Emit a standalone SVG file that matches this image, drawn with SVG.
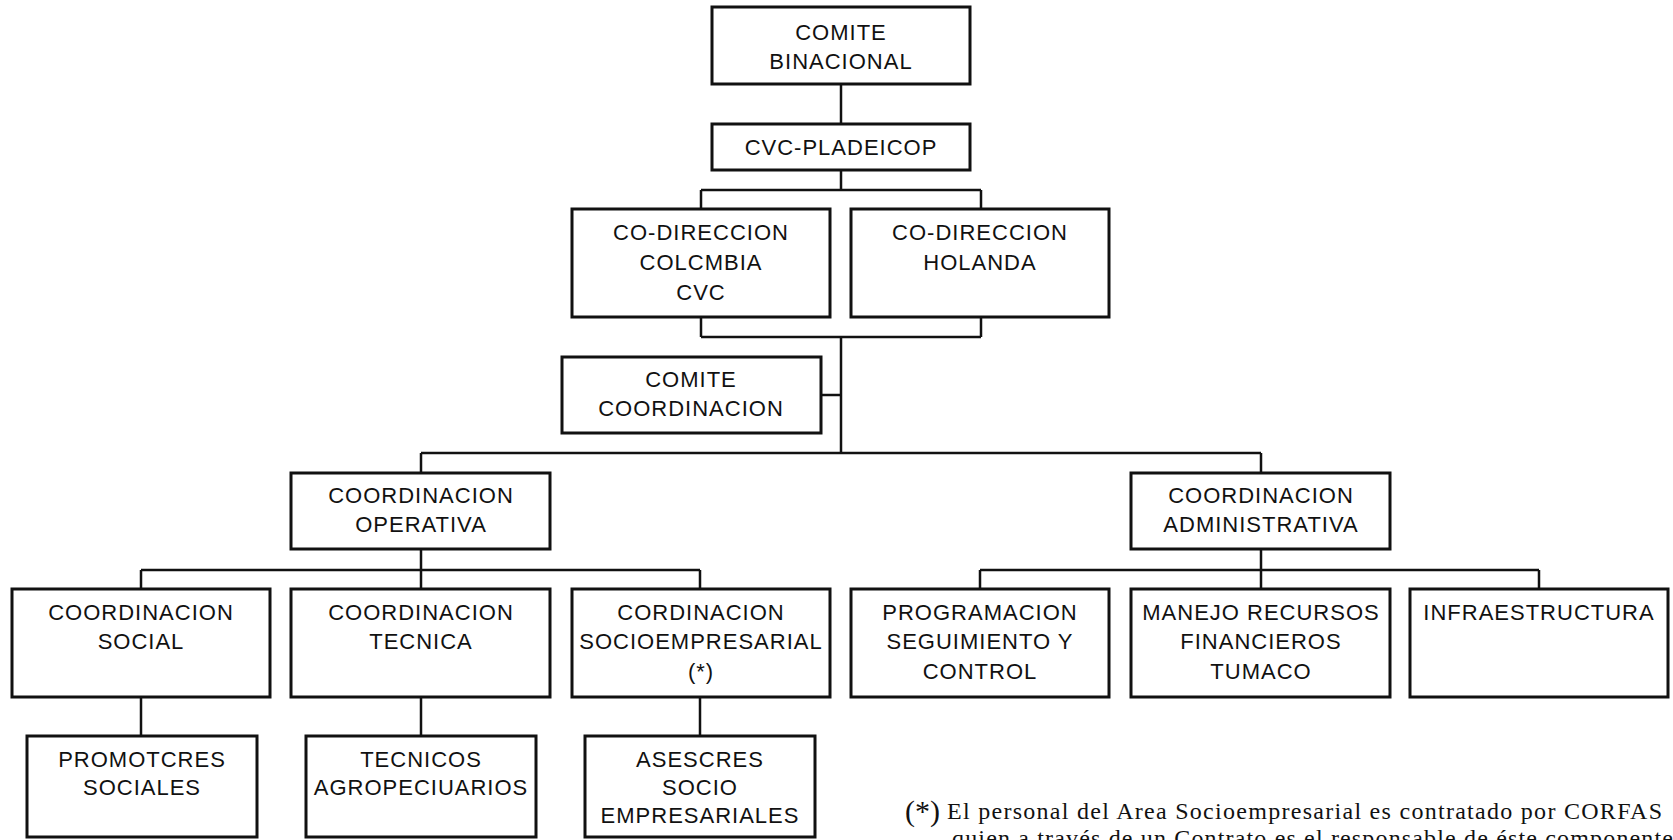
<svg xmlns="http://www.w3.org/2000/svg" width="1673" height="840" viewBox="0 0 1673 840">
<style>
.box{fill:#fff;stroke:#111;stroke-width:3}
.lbl{font-family:"Liberation Sans",Arial,sans-serif;font-size:22px;letter-spacing:1px;fill:#111;text-anchor:middle}
.conn{fill:none;stroke:#111;stroke-width:2.5}
.note{font-family:"Liberation Serif","Times New Roman",serif;font-size:24px;fill:#111}
</style>
<rect width="1673" height="840" fill="#fff"/>
<g id="connectors" class="conn">
<path d="M841 84V124"/>
<path d="M841 170V190M701 190H981M701 190V209M981 190V209"/>
<path d="M701 317V337M981 317V337M701 337H981M841 337V453"/>
<path d="M821 395H841"/>
<path d="M421 453H1261M421 453V473M1261 453V473"/>
<path d="M421 549V570M141 570H700M141 570V589M421 570V589M700 570V589"/>
<path d="M1261 549V570M980 570H1539M980 570V589M1261 570V589M1539 570V589"/>
<path d="M141 697V736M421 697V736M700 697V736"/>
</g>
<g id="comite-binacional"><rect class="box" x="712" y="7" width="258" height="77"/><text class="lbl" x="841" y="40">COMITE</text><text class="lbl" x="841" y="69">BINACIONAL</text></g>
<g id="cvc-pladeicop"><rect class="box" x="712" y="124" width="258" height="46"/><text class="lbl" x="841" y="155">CVC-PLADEICOP</text></g>
<g id="co-direccion-colombia"><rect class="box" x="572" y="209" width="258" height="108"/><text class="lbl" x="701" y="240">CO-DIRECCION</text><text class="lbl" x="701" y="270">COLCMBIA</text><text class="lbl" x="701" y="300">CVC</text></g>
<g id="co-direccion-holanda"><rect class="box" x="851" y="209" width="258" height="108"/><text class="lbl" x="980" y="240">CO-DIRECCION</text><text class="lbl" x="980" y="270">HOLANDA</text></g>
<g id="comite-coordinacion"><rect class="box" x="562" y="357" width="259" height="76"/><text class="lbl" x="691" y="387">COMITE</text><text class="lbl" x="691" y="416">COORDINACION</text></g>
<g id="coordinacion-operativa"><rect class="box" x="291" y="473" width="259" height="76"/><text class="lbl" x="421" y="503">COORDINACION</text><text class="lbl" x="421" y="532">OPERATIVA</text></g>
<g id="coordinacion-administrativa"><rect class="box" x="1131" y="473" width="259" height="76"/><text class="lbl" x="1261" y="503">COORDINACION</text><text class="lbl" x="1261" y="532">ADMINISTRATIVA</text></g>
<g id="coordinacion-social"><rect class="box" x="12" y="589" width="258" height="108"/><text class="lbl" x="141" y="620">COORDINACION</text><text class="lbl" x="141" y="649">SOCIAL</text></g>
<g id="coordinacion-tecnica"><rect class="box" x="291" y="589" width="259" height="108"/><text class="lbl" x="421" y="620">COORDINACION</text><text class="lbl" x="421" y="649">TECNICA</text></g>
<g id="cordinacion-socioempresarial"><rect class="box" x="572" y="589" width="258" height="108"/><text class="lbl" x="701" y="620">CORDINACION</text><text class="lbl" x="701" y="649">SOCIOEMPRESARIAL</text><text class="lbl" x="701" y="679">(*)</text></g>
<g id="programacion"><rect class="box" x="851" y="589" width="258" height="108"/><text class="lbl" x="980" y="620">PROGRAMACION</text><text class="lbl" x="980" y="649">SEGUIMIENTO Y</text><text class="lbl" x="980" y="679">CONTROL</text></g>
<g id="manejo-recursos"><rect class="box" x="1131" y="589" width="259" height="108"/><text class="lbl" x="1261" y="620">MANEJO RECURSOS</text><text class="lbl" x="1261" y="649">FINANCIEROS</text><text class="lbl" x="1261" y="679">TUMACO</text></g>
<g id="infraestructura"><rect class="box" x="1410" y="589" width="258" height="108"/><text class="lbl" x="1539" y="620">INFRAESTRUCTURA</text></g>
<g id="promotores-sociales"><rect class="box" x="27" y="736" width="230" height="101"/><text class="lbl" x="142" y="767">PROMOTCRES</text><text class="lbl" x="142" y="795">SOCIALES</text></g>
<g id="tecnicos-agropecuarios"><rect class="box" x="306" y="736" width="230" height="101"/><text class="lbl" x="421" y="767">TECNICOS</text><text class="lbl" x="421" y="795">AGROPECIUARIOS</text></g>
<g id="asesores-socio-empresariales"><rect class="box" x="585" y="736" width="230" height="101"/><text class="lbl" x="700" y="767">ASESCRES</text><text class="lbl" x="700" y="795">SOCIO</text><text class="lbl" x="700" y="823">EMPRESARIALES</text></g>
<g id="footnote">
<text class="note" x="905" y="821" style="font-size:30px">(*)</text>
<text class="note" x="947" y="819" textLength="715">El personal del Area Socioempresarial es contratado por CORFAS</text>
<text class="note" x="952" y="846" textLength="721">quien a través de un Contrato es el responsable de éste componente</text>
</g>
</svg>
